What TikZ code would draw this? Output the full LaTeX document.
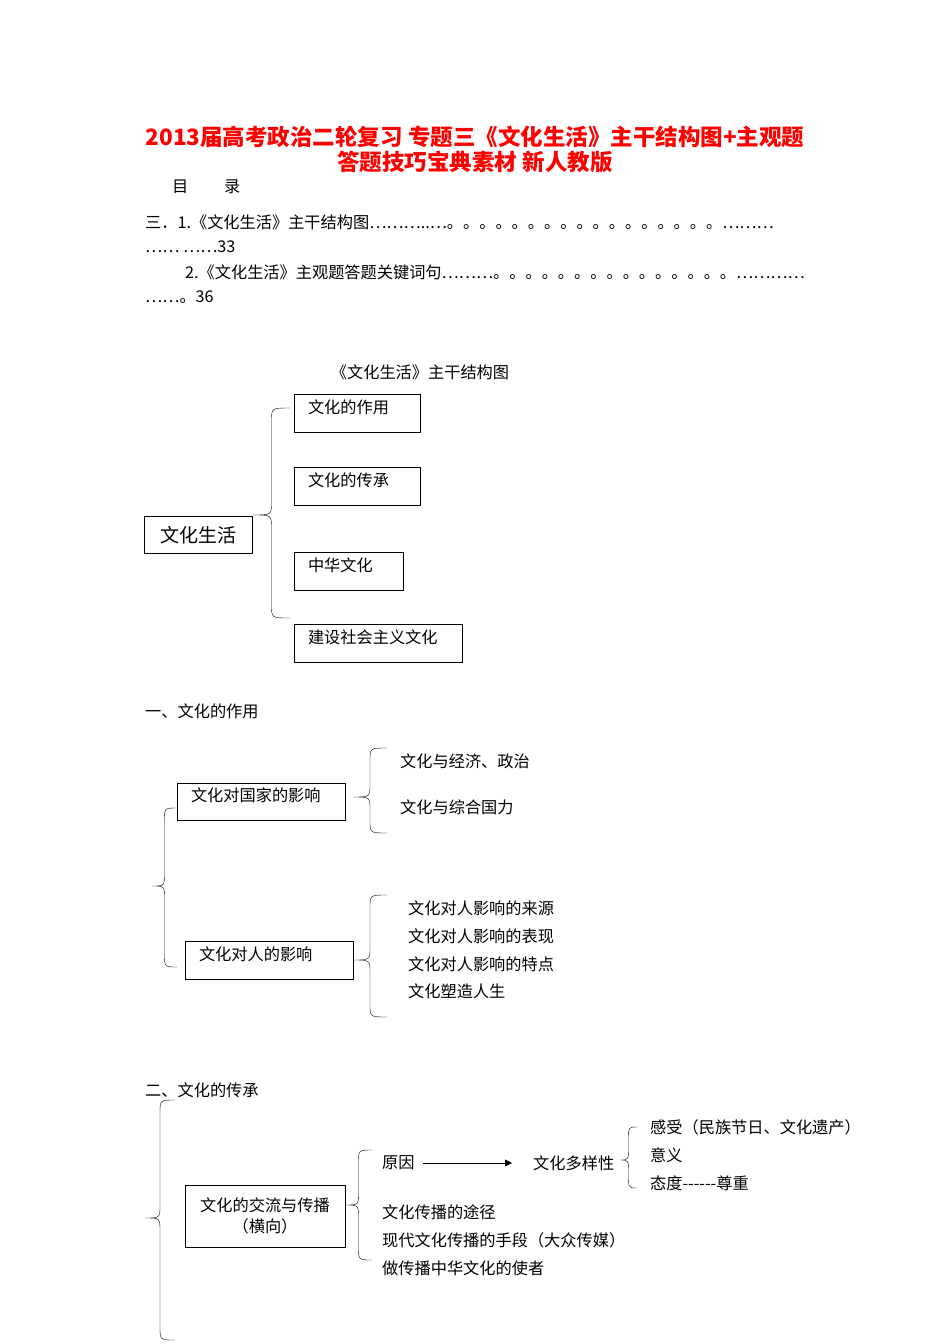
\documentclass[tikz,border=0pt]{standalone}
\usepackage{fontspec}
\setmainfont{Noto Sans CJK SC}
\usetikzlibrary{arrows.meta}
\newcommand\mybrace[5]{% x tip, ytop, ymid, ybot, xend
 \draw[thin] (#5,#2) .. controls ({(#1+#5)/2},#2) .. ({(#1+#5)/2},{#2+13}) -- ({(#1+#5)/2},{#3-13}) .. controls ({(#1+#5)/2},#3) .. (#1,#3) .. controls ({(#1+#5)/2},#3) .. ({(#1+#5)/2},{#3+13}) -- ({(#1+#5)/2},{#4-13}) .. controls ({(#1+#5)/2},#4) .. (#5,#4);}
\begin{document}
\begin{tikzpicture}[x=1pt,y=-1pt,
 txt/.style={anchor=west,inner sep=0pt,font=\fontsize{16.2}{19}\selectfont},
 bx/.style={draw,thick,inner sep=0pt,font=\fontsize{16.2}{19}\selectfont},
 ttl/.style={inner sep=0pt,text=red,font=\fontsize{22.5}{25}\selectfont\bfseries}]
\useasboundingbox[fill=white] (0,0) rectangle (950,1344);
\node[ttl] (t1) at (475,137) {2013届高考政治二轮复习\ 专题三《文化生活》主干结构图+主观题};
\node[ttl] (t2) at (475,162) {答题技巧宝典素材\ 新人教版};
\node[txt] (ml) at (172,187) {目\hspace{2.2em}录};
\node[txt] (c1) at (145,222) {三．1.《文化生活》主干结构图………..…。。。。。。。。。。。。。。。。。………};
\node[txt] (c2) at (145,247) {…… ……33};
\node[txt] (c3) at (185,272) {2.《文化生活》主观题答题关键词句………。。。。。。。。。。。。。。。…………};
\node[txt] (c4) at (145,297) {……。36};
\node[txt,anchor=center] (h0) at (420,372) {《文化生活》主干结构图};
% section 0
\node[bx,minimum width=108,minimum height=37,font=\fontsize{19}{21}\selectfont] (wh) at (198,535) {文化生活};
\mybrace{253}{408}{515}{618}{290}
\node[bx,minimum width=126,minimum height=38,text width=98,align=left] (b1) at (357,413) {文化的作用\\[-6pt]~};
\node[bx,minimum width=126,minimum height=38,text width=98,align=left] (b2) at (357,486) {文化的传承\\[-6pt]~};
\node[bx,minimum width=109,minimum height=38,text width=81,align=left] (b3) at (348.5,571) {中华文化\\[-6pt]~};
\node[bx,minimum width=168,minimum height=38,text width=140,align=left] (b4) at (378,643) {建设社会主义文化\\[-6pt]~};
% section 1
\node[txt] (s1) at (145,711) {一、文化的作用};
\mybrace{152}{808}{886}{967}{177}
\node[bx,minimum width=168,minimum height=37,text width=140,align=left] (g1) at (261,801.5) {文化对国家的影响\\[-6pt]~};
\mybrace{353}{748}{797}{833}{387}
\node[txt] (g1a) at (400,761) {文化与经济、政治};
\node[txt] (g1b) at (400,807) {文化与综合国力};
\node[bx,minimum width=168,minimum height=38,text width=140,align=left] (g2) at (269,960) {文化对人的影响\\[-6pt]~};
\mybrace{353}{895}{960}{1017}{387}
\node[txt] (g2a) at (408,908) {文化对人影响的来源};
\node[txt] (g2b) at (408,936) {文化对人影响的表现};
\node[txt] (g2c) at (408,964) {文化对人影响的特点};
\node[txt] (g2d) at (408,991) {文化塑造人生};
% section 2
\node[txt] (s2) at (145,1090) {二、文化的传承};
\mybrace{145}{1100}{1218}{1340}{175}
\node[bx,minimum width=160,minimum height=62,align=center] (h1) at (265,1216) {文化的交流与传播\\[2pt]（横向）};
\mybrace{345}{1150}{1205}{1260}{372}
\node[txt] (ry) at (382,1163) {原因};
\node[txt] (dy) at (533,1163) {文化多样性};
\draw[-{Triangle[length=7pt,width=7pt]},thick] (ry.east) ++(8,0) coordinate (ar0) (ar0) -- (dy.west -| 512,0) ;
\mybrace{620}{1127}{1160}{1188}{637}
\node[txt] (d1) at (650,1127) {感受（民族节日、文化遗产）};
\node[txt] (d2) at (650,1155) {意义};
\node[txt] (d3) at (650,1183) {态度{-}{-}{-}{-}{-}{-}尊重};
\node[txt] (e1) at (382,1212) {文化传播的途径};
\node[txt] (e2) at (382,1240) {现代文化传播的手段（大众传媒）};
\node[txt] (e3) at (382,1268) {做传播中华文化的使者};
\end{tikzpicture}
\end{document}
